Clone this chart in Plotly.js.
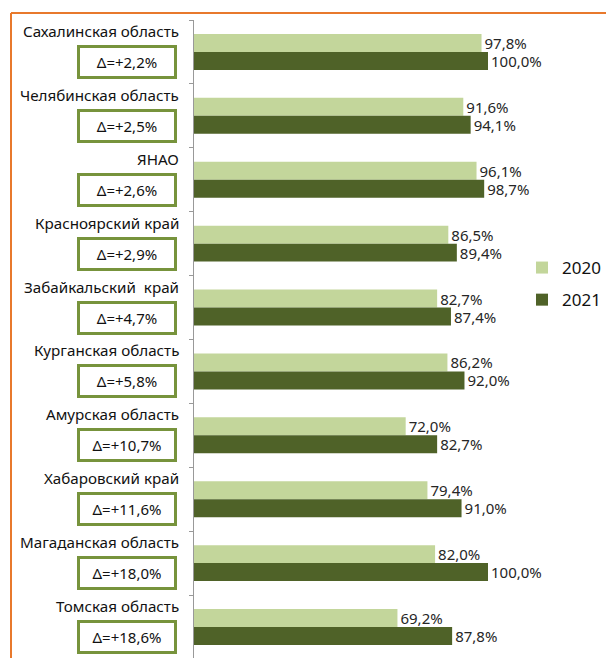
<!DOCTYPE html>
<html><head><meta charset="utf-8">
<script src="https://cdn.plot.ly/plotly-3.0.1.min.js"></script>
<style>html,body{margin:0;padding:0;overflow:hidden;background:#fff}#chart{width:606px;height:662px}</style>
</head><body><div id="chart"></div>
<script>
const categories = ['Сахалинская область','Челябинская область','ЯНАО','Красноярский край','Забайкальский  край','Курганская область','Амурская область','Хабаровский край','Магаданская область','Томская область'];
const values2020 = [97.8, 91.6, 96.1, 86.5, 82.7, 86.2, 72.0, 79.4, 82.0, 69.2];
const values2021 = [100.0, 94.1, 98.7, 89.4, 87.4, 92.0, 82.7, 91.0, 100.0, 87.8];
const deltaLabels = ['+2,2','+2,5','+2,6','+2,9','+4,7','+5,8','+10,7','+11,6','+18,0','+18,6'];
const seriesNames = ['2020','2021'];

const fmt = v => v.toFixed(1).replace('.', ',') + '%';
const FONT = 'Noto Sans, sans-serif';
const L = 194, R = 0, T = 20, B = 2, W = 606, H = 662;
const pw = W - L - R, ph = H - T - B;
const px = x => (x - L) / pw;
const py = y => (H - B - y) / ph;

const traces = [
  {type:'bar', orientation:'h', name:seriesNames[0], y:categories, x:values2020,
   marker:{color:'#C3D69B'}, text:values2020.map(fmt), textposition:'outside',
   textfont:{family:FONT,size:15,color:'#262626'}, cliponaxis:false, constraintext:'none',
   legendgroup:'a', hoverinfo:'none'},
  {type:'bar', orientation:'h', name:seriesNames[1], y:categories, x:values2021,
   marker:{color:'#4F6228'}, text:values2021.map(fmt), textposition:'outside',
   textfont:{family:FONT,size:15,color:'#262626'}, cliponaxis:false, constraintext:'none',
   legendgroup:'b', hoverinfo:'none'}
];

const annotations = [];
categories.forEach((c, i) => {
  annotations.push({xref:'paper', yref:'y', x:px(181), y:c, xanchor:'right', yanchor:'middle',
    yshift:21, text:c, showarrow:false, font:{family:FONT,size:15.2,color:'#111'}});
  annotations.push({xref:'paper', yref:'y', x:px(126.5), y:c, xanchor:'center', yanchor:'middle',
    yshift:-10, text:'Δ=' + deltaLabels[i] + '%', showarrow:false, width:92, height:26,
    bordercolor:'#77933C', borderwidth:3, borderpad:1, bgcolor:'#fff',
    font:{family:FONT,size:15,color:'#111'}});
});

const layout = {
  width:W, height:H, margin:{l:L, r:R, t:T, b:B},
  paper_bgcolor:'rgba(0,0,0,0)', plot_bgcolor:'rgba(0,0,0,0)',
  barmode:'group', bargap:0.4375, bargroupgap:0,
  showlegend:true,
  legend:{x:1, y:py(250), xanchor:'right', yanchor:'top', traceorder:'grouped',
    tracegroupgap:7, font:{family:FONT,size:17,color:'#111'}, itemwidth:30, bgcolor:'rgba(0,0,0,0)'},
  xaxis:{range:[0,412/2.94], visible:false, fixedrange:true},
  yaxis:{type:'category', autorange:'reversed', showticklabels:false, showgrid:false,
    zeroline:false, showline:true, linecolor:'#999999', linewidth:1,
    ticks:'outside', ticklen:4, tickcolor:'#999999', tickson:'boundaries'},
  shapes:[
    {type:'line', xref:'paper', yref:'paper', x0:px(11), x1:px(620), y0:py(13), y1:py(13),
     line:{color:'#E8792C', width:2}},
    {type:'line', xref:'paper', yref:'paper', x0:px(11), x1:px(11), y0:py(13), y1:py(680),
     line:{color:'#E8792C', width:2}}
  ],
  annotations:annotations
};

Plotly.newPlot('chart', traces, layout, {displayModeBar:false, staticPlot:true});
</script></body></html>
